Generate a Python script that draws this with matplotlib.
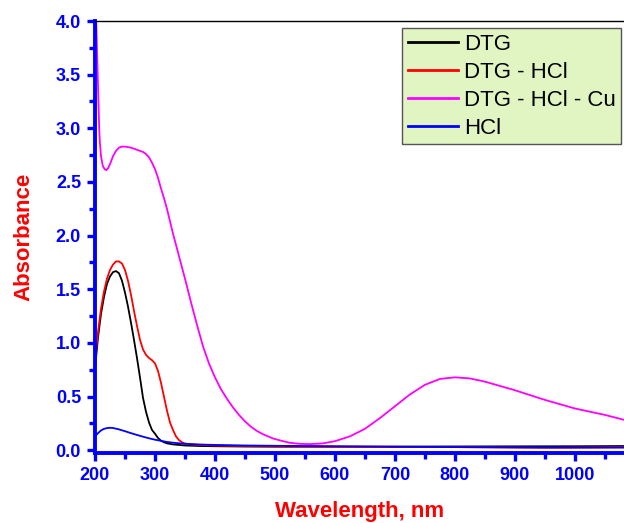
import numpy as np
import matplotlib
matplotlib.use('Agg')
import matplotlib.pyplot as plt
from matplotlib.ticker import MultipleLocator, FormatStrFormatter

plt.rcParams['font.family'] = ['Liberation Sans', 'DejaVu Sans']

# UV-Vis spectra: wavelength (nm) and absorbance for each sample
wl_dtg = [200, 205, 210, 215, 220, 225, 230, 235, 240, 245, 250, 255, 260, 265,
          270, 275, 280, 285, 290, 295, 300, 305, 310, 315, 320, 330, 340, 350,
          375, 400, 450, 500, 600, 700, 800, 900, 1000, 1085]
abs_dtg = [0.76, 1.05, 1.27, 1.43, 1.55, 1.62, 1.66, 1.67, 1.65, 1.58, 1.47, 1.34,
           1.19, 1.03, 0.86, 0.68, 0.49, 0.36, 0.26, 0.19, 0.155, 0.115, 0.09,
           0.075, 0.065, 0.055, 0.05, 0.045, 0.04, 0.038, 0.035, 0.034, 0.034,
           0.035, 0.036, 0.037, 0.038, 0.04]

wl_dtg_hcl = [200, 205, 210, 215, 220, 225, 230, 235, 240, 245, 250, 255, 260,
              265, 270, 275, 280, 285, 290, 295, 300, 305, 310, 315, 320, 325,
              330, 335, 340, 345, 350, 360, 375, 400, 450, 500, 600, 700, 800,
              900, 950, 1000, 1085]
abs_dtg_hcl = [0.82, 1.10, 1.32, 1.48, 1.60, 1.68, 1.73, 1.76, 1.76, 1.74, 1.68,
               1.58, 1.45, 1.30, 1.16, 1.03, 0.94, 0.89, 0.86, 0.84, 0.81, 0.74,
               0.63, 0.50, 0.37, 0.26, 0.19, 0.13, 0.095, 0.075, 0.063, 0.055,
               0.05, 0.045, 0.04, 0.035, 0.032, 0.03, 0.03, 0.026, 0.024, 0.026,
               0.03]

wl_dtg_hcl_cu = [200, 202, 204, 206, 207, 208, 210, 213, 216, 219, 222, 226, 230,
                 235, 240, 245, 250, 260, 270, 280, 285, 290, 295, 300, 305, 310,
                 315, 320, 330, 340, 350, 360, 370, 380, 390, 400, 410, 420, 430,
                 440, 450, 460, 470, 480, 497, 510, 525, 542, 560, 580, 600, 625,
                 650, 675, 700, 725, 750, 775, 800, 825, 850, 875, 900, 950, 1000,
                 1050, 1085]
abs_dtg_hcl_cu = [4.5, 4.0, 3.6, 3.2, 3.0, 2.88, 2.74, 2.65, 2.62, 2.61, 2.63,
                  2.68, 2.74, 2.79, 2.82, 2.83, 2.83, 2.82, 2.80, 2.78, 2.76, 2.73,
                  2.68, 2.62, 2.54, 2.44, 2.35, 2.25, 2.02, 1.81, 1.60, 1.38, 1.17,
                  0.97, 0.81, 0.68, 0.57, 0.48, 0.40, 0.33, 0.27, 0.22, 0.18, 0.15,
                  0.11, 0.09, 0.07, 0.06, 0.058, 0.065, 0.085, 0.13, 0.20, 0.30,
                  0.41, 0.52, 0.61, 0.665, 0.68, 0.67, 0.64, 0.60, 0.56, 0.47,
                  0.39, 0.33, 0.28]

wl_hcl = [200, 205, 210, 215, 220, 225, 230, 240, 250, 260, 270, 280, 290, 300,
          310, 320, 335, 350, 375, 400, 450, 500, 600, 700, 800, 900, 1000, 1085]
abs_hcl = [0.13, 0.16, 0.185, 0.20, 0.207, 0.21, 0.208, 0.195, 0.178, 0.16, 0.143,
           0.127, 0.112, 0.099, 0.088, 0.078, 0.068, 0.061, 0.054, 0.05, 0.045,
           0.042, 0.038, 0.033, 0.03, 0.027, 0.025, 0.025]

fig = plt.figure(figsize=(6.24, 5.23), dpi=100)
ax = fig.add_axes([95 / 624, 70 / 523, 1 - 95 / 624, 432 / 523])

ax.plot(wl_dtg, abs_dtg, color='black', lw=1.3, label='DTG')
ax.plot(wl_dtg_hcl, abs_dtg_hcl, color='red', lw=1.3, label='DTG - HCl')
ax.plot(wl_dtg_hcl_cu, abs_dtg_hcl_cu, color='magenta', lw=1.3, label='DTG - HCl - Cu')
ax.plot(wl_hcl, abs_hcl, color='blue', lw=1.3, label='HCl')

ax.set_xlim(200, 1082)
ax.set_ylim(-0.025, 4.0)

# Axis styling: thick blue left/bottom spines, thin black top line
for side in ['left', 'bottom']:
    ax.spines[side].set_color('blue')
    ax.spines[side].set_linewidth(2.8)
ax.spines['top'].set_linewidth(1.0)
ax.spines['right'].set_visible(False)

ax.xaxis.set_major_locator(MultipleLocator(100))
ax.xaxis.set_minor_locator(MultipleLocator(50))
ax.yaxis.set_major_locator(MultipleLocator(0.5))
ax.yaxis.set_minor_locator(MultipleLocator(0.25))
ax.yaxis.set_major_formatter(FormatStrFormatter('%.1f'))

ax.tick_params(which='both', direction='out', color='blue', width=2.4,
               labelcolor='blue', top=False, right=False)
ax.tick_params(which='major', length=6, labelsize=13, pad=4)
ax.tick_params(which='minor', length=4)
for lab in ax.get_xticklabels() + ax.get_yticklabels():
    lab.set_fontweight('bold')

ax.set_xlabel('Wavelength, nm', color='red', fontsize=16, fontweight='bold',
              labelpad=12)
ax.set_ylabel('Absorbance', color='red', fontsize=16, fontweight='bold',
              labelpad=15)

leg = ax.legend(loc='upper right', bbox_to_anchor=(621 / 624, 1 - 28 / 523),
                bbox_transform=fig.transFigure, borderaxespad=0, fontsize=16,
                fancybox=False, framealpha=1, handlelength=2.25,
                handletextpad=0.27, labelspacing=0.32, borderpad=0.25)
leg.get_frame().set_facecolor('#e0f5c2')
leg.get_frame().set_edgecolor('#555555')
leg.get_frame().set_linewidth(1.0)
for line in leg.get_lines():
    line.set_linewidth(2.0)

fig.savefig('out.png', dpi=100)
